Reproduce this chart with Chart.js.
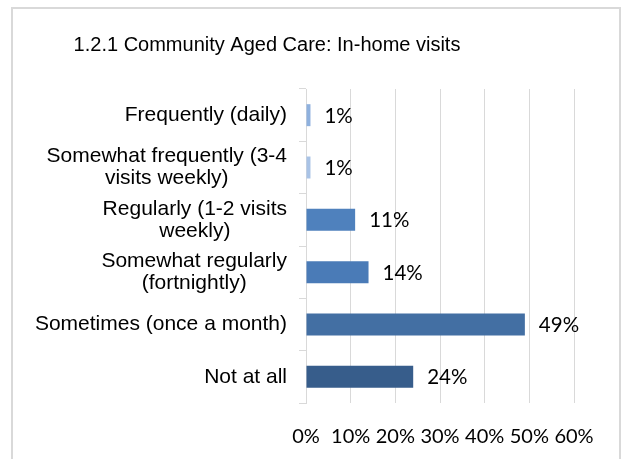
<!DOCTYPE html>
<html>
<head>
<meta charset="utf-8">
<script src="https://cdn.jsdelivr.net/npm/chart.js@4/dist/chart.umd.min.js"></script>
<style>
  html, body { margin: 0; padding: 0; background: #ffffff; }
  #wrap { width: 624px; height: 459px; position: relative; }
</style>
</head>
<body>
<div id="wrap"><canvas id="c" width="624" height="459"></canvas></div>
<script>
const chartTitle = '1.2.1 Community Aged Care: In-home visits';
const categories = [
  ['Frequently (daily)'],
  ['Somewhat frequently (3-4', 'visits weekly)'],
  ['Regularly (1-2 visits', 'weekly)'],
  ['Somewhat regularly', '(fortnightly)'],
  ['Sometimes (once a month)'],
  ['Not at all']
];
const percentages = [1, 1, 11, 14, 49, 24];
const barColors = ['#8fb1de', '#a9c3e6', '#4f81bd', '#4a7bb7', '#436fa3', '#375d8b'];
const xTicks = [0, 10, 20, 30, 40, 50, 60];

const sansFont = '"Liberation Sans", Arial, sans-serif';
const labelFont = '21px ' + sansFont;
const titleFont = '20px ' + sansFont;
const valueFont = '20.5px Lato, "Open Sans", sans-serif';

// Outer frame and title
const framePlugin = {
  id: 'frame',
  beforeDraw(chart) {
    const ctx = chart.ctx;
    ctx.save();
    ctx.fillStyle = '#ffffff';
    ctx.fillRect(0, 0, chart.width, chart.height);
    ctx.strokeStyle = '#d9d9d9';
    ctx.lineWidth = 2;
    ctx.strokeRect(12, 8, 608, 470);
    ctx.font = titleFont;
    ctx.fillStyle = '#000000';
    ctx.textAlign = 'center';
    ctx.textBaseline = 'middle';
    ctx.fillText(chartTitle, 267, 45);
    ctx.restore();
  }
};

// Category labels: block right-aligned, lines centred inside the block
const categoryLabelPlugin = {
  id: 'categoryLabels',
  afterDraw(chart) {
    const ctx = chart.ctx;
    const yScale = chart.scales.y;
    const right = chart.chartArea.left - 19;
    const lineH = 22;
    ctx.save();
    ctx.font = labelFont;
    ctx.fillStyle = '#000000';
    ctx.textBaseline = 'middle';
    ctx.textAlign = 'center';
    categories.forEach((lines, i) => {
      const yc = yScale.getPixelForValue(i);
      const widths = lines.map(l => ctx.measureText(l).width);
      const blockW = Math.max(...widths);
      const cx = right - blockW / 2;
      const y0 = yc - (lines.length - 1) * lineH / 2;
      lines.forEach((l, k) => ctx.fillText(l, cx, y0 + k * lineH));
    });
    ctx.restore();
  }
};

// Value labels after each bar
const valueLabelPlugin = {
  id: 'valueLabels',
  afterDatasetsDraw(chart) {
    const ctx = chart.ctx;
    const meta = chart.getDatasetMeta(0);
    ctx.save();
    ctx.font = valueFont;
    ctx.fillStyle = '#000000';
    ctx.textBaseline = 'middle';
    ctx.textAlign = 'left';
    meta.data.forEach((bar, i) => {
      ctx.fillText(percentages[i] + '%', bar.x + 14, bar.y + 1);
    });
    ctx.restore();
  }
};

new Chart(document.getElementById('c'), {
  type: 'bar',
  data: {
    labels: categories.map(l => l.join(' ')),
    datasets: [{
      data: percentages,
      backgroundColor: barColors,
      borderWidth: 0,
      categoryPercentage: 1.0,
      barPercentage: 0.42
    }]
  },
  options: {
    indexAxis: 'y',
    responsive: false,
    animation: false,
    devicePixelRatio: 1,
    layout: { padding: { left: 0, right: 50, top: 89, bottom: 0 } },
    plugins: {
      legend: { display: false },
      tooltip: { enabled: false },
      title: { display: false }
    },
    scales: {
      x: {
        min: 0,
        max: 60,
        afterBuildTicks(scale) { scale.ticks = xTicks.map(v => ({ value: v })); },
        afterFit(scale) { scale.height = 56; },
        grid: { color: '#d9d9d9', lineWidth: 1, drawTicks: false },
        border: { display: false },
        ticks: {
          padding: 22,
          color: '#000000',
          autoSkip: false,
          maxRotation: 0,
          minRotation: 0,
          font: { family: 'Lato, "Open Sans", sans-serif', size: 20 },
          callback: v => v + '%'
        }
      },
      y: {
        offset: true,
        afterFit(scale) { scale.width = 306; },
        grid: { offset: true, drawOnChartArea: false, color: '#d9d9d9', tickLength: 7 },
        border: { display: true, color: '#d9d9d9', width: 1 },
        ticks: { display: false }
      }
    }
  },
  plugins: [framePlugin, categoryLabelPlugin, valueLabelPlugin]
});
</script>
</body>
</html>
